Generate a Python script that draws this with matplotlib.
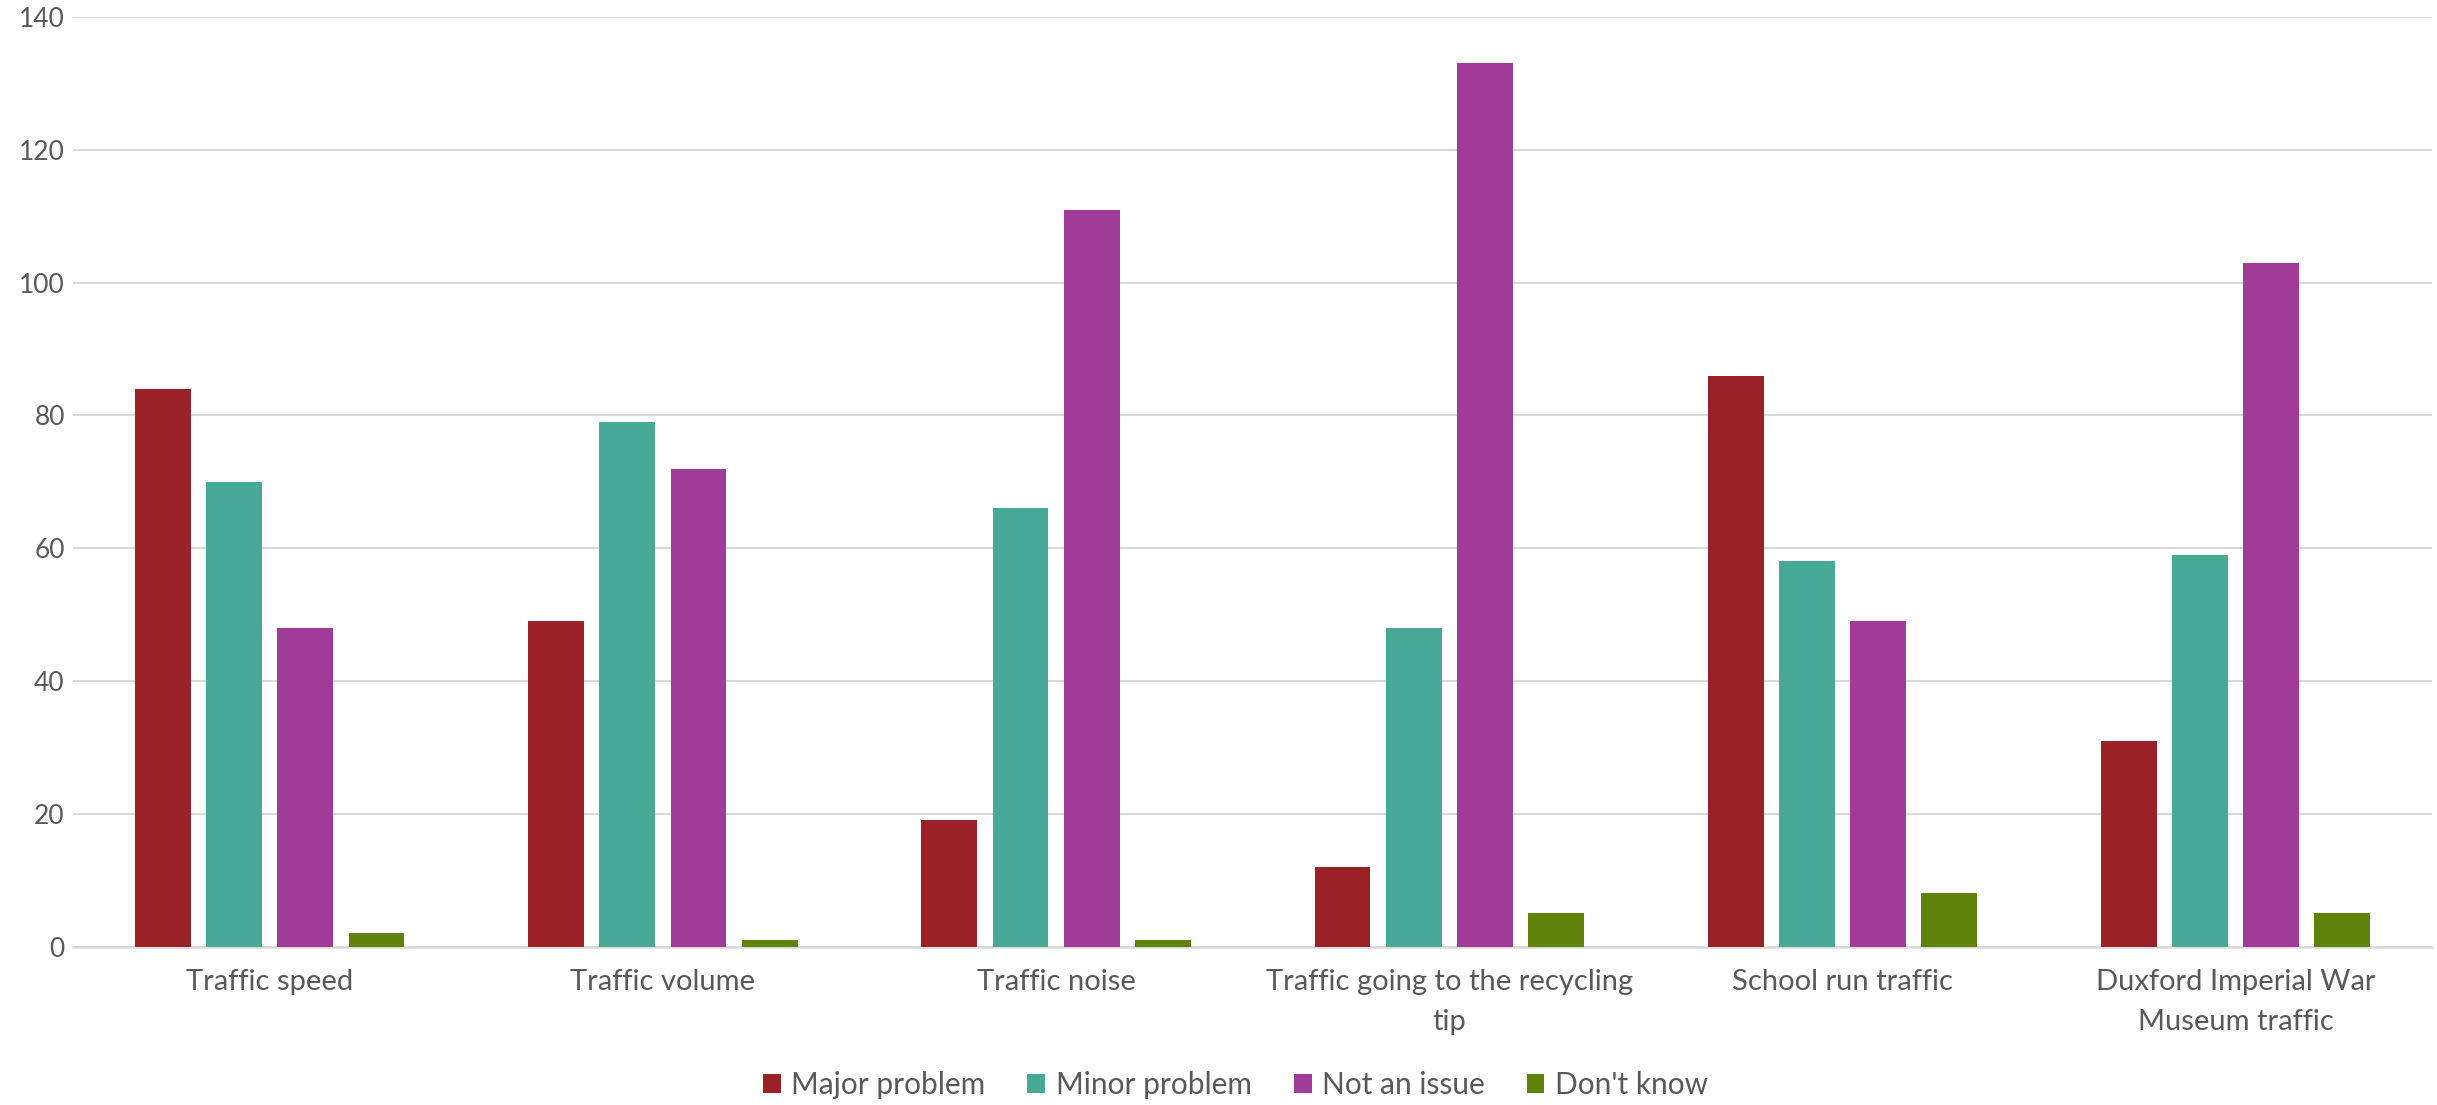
import matplotlib.pyplot as plt
import numpy as np

categories = ['Traffic speed', 'Traffic volume', 'Traffic noise',
              'Traffic going to the recycling\ntip', 'School run traffic',
              'Duxford Imperial War\nMuseum traffic']
major = [84, 49, 19, 12, 86, 31]
minor = [70, 79, 66, 48, 58, 59]
not_issue = [48, 72, 111, 133, 49, 103]
dont_know = [2, 1, 1, 5, 8, 5]

series = [('Major problem', major, '#9A2226'),
          ('Minor problem', minor, '#46AA96'),
          ('Not an issue', not_issue, '#A03B97'),
          ("Don't know", dont_know, '#5F830A')]

plt.rcParams['font.family'] = ['Lato', 'DejaVu Sans']
text_col = '#595959'

fig = plt.figure(figsize=(24.37, 11.05), dpi=100)
ax = fig.add_axes([0.030, 0.1434, 0.968, 0.8412])

x = np.arange(len(categories))
step = 0.181
width = 0.142
for i, (name, vals, col) in enumerate(series):
    ax.bar(x + (i - 1.5) * step, vals, width, color=col, label=name, zorder=3)

ax.set_xlim(-0.5, len(categories) - 0.5)
ax.set_ylim(0, 140)
ax.set_yticks(range(0, 141, 20))
ax.yaxis.grid(True, color='#D9D9D9', linewidth=1.5, zorder=0)
for s in ['top', 'right', 'left']:
    ax.spines[s].set_visible(False)
ax.spines['bottom'].set_color('#D9D9D9')
ax.spines['bottom'].set_linewidth(1.8)
ax.tick_params(axis='y', length=0, pad=6, labelsize=19, labelcolor=text_col)
ax.tick_params(axis='x', length=0, pad=16, labelsize=21, labelcolor=text_col)
ax.set_xticks(x)
ax.set_xticklabels(categories, linespacing=1.7)

leg = fig.legend(loc='center', bbox_to_anchor=(0.507, 0.018), ncol=4,
                 frameon=False, fontsize=21.5, handlelength=0.6, handleheight=0.6,
                 handletextpad=0.35, columnspacing=1.4)
for t in leg.get_texts():
    t.set_color(text_col)

fig.savefig('out.png', dpi=100)
